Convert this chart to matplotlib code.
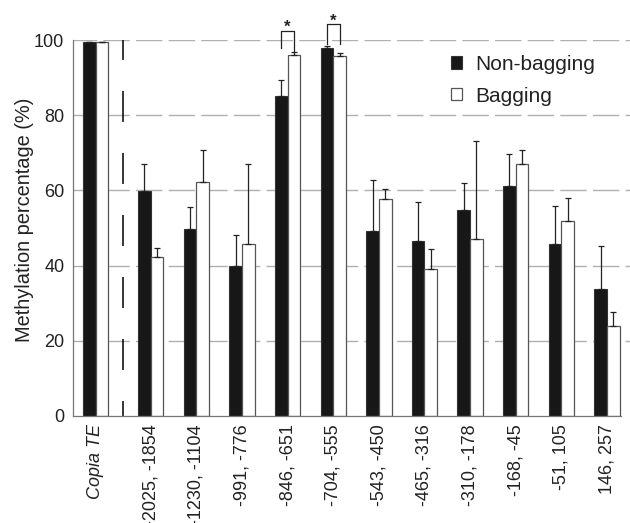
import matplotlib
matplotlib.use("Agg")
import matplotlib.pyplot as plt
from matplotlib.patches import Patch
import numpy as np

plt.rcParams['font.family'] = ['Liberation Sans', 'DejaVu Sans']

# Regions (bp relative to TSS); first entry is the Copia TE control
regions = ["Copia TE", "-2025, -1854", "-1230, -1104", "-991, -776", "-846, -651",
           "-704, -555", "-543, -450", "-465, -316", "-310, -178", "-168, -45",
           "-51, 105", "146, 257"]
non_bagging = [99.6, 59.9, 49.7, 39.9, 85.2, 98.0, 49.2, 46.5, 54.9, 61.2, 45.7, 33.7]
non_bagging_err = [0.0, 7.0, 6.0, 8.2, 4.1, 0.5, 13.6, 10.3, 7.1, 8.6, 10.1, 11.4]
bagging = [99.4, 42.2, 62.3, 45.7, 95.9, 95.7, 57.6, 39.1, 47.1, 67.0, 51.9, 24.0]
bagging_err = [0.0, 2.4, 8.4, 21.3, 1.0, 0.8, 2.9, 5.3, 26.0, 3.7, 6.2, 3.7]
yticks = [0, 20, 40, 60, 80, 100]

# x positions: control set apart, then evenly spaced regions
pos = np.concatenate([[-1.205], np.arange(len(regions) - 1)])
w = 0.278

fig = plt.figure(figsize=(6.30, 5.23), dpi=100)
ax = fig.add_axes([0.1154, 0.2046, 1.0 - 0.1154, 0.9235 - 0.2046])

ax.set_xlim(-1.709, 10.504)
ax.set_ylim(0, 100)

# dashed horizontal grid
for yv in yticks[1:]:
    ax.axhline(yv, color="#b0b0b0", lw=1.0, ls=(2, (19, 4.5)), zorder=0)

err_kw = dict(ecolor="#222222", elinewidth=0.9, capsize=2.5, capthick=0.9)
ax.bar(pos - w / 2, non_bagging, w, color="#171717", edgecolor="#333333", lw=0.8,
       yerr=[np.zeros(len(regions)), non_bagging_err], error_kw=err_kw, zorder=2)
ax.bar(pos + w / 2, bagging, w, color="white", edgecolor="#555555", lw=0.9,
       yerr=[np.zeros(len(regions)), bagging_err], error_kw=err_kw, zorder=2)

# separator between control and promoter regions
ax.plot([-0.60, -0.60], [0, 100], color="black", lw=1.1,
        ls=(10.5, (20.3, 20.3)), zorder=1)

# significance brackets
sig = [(4, 102.5, 97.8, 96.9), (5, 104.2, 99.0, 99.0)]
for i, top, yl, yr in sig:
    xl, xr = pos[i] - w / 2, pos[i] + w / 2
    ax.plot([xl, xl, xr, xr], [yl, top, top, yr], color="#222222", lw=0.9,
            clip_on=False, zorder=3)
    ax.text((xl + xr) / 2, top - 1.2, "*", ha="center", va="bottom",
            fontsize=12, fontweight="bold", color="#222222", clip_on=False)

for s in ["top", "right"]:
    ax.spines[s].set_visible(False)
for s in ["left", "bottom"]:
    ax.spines[s].set_color("#777777")
    ax.spines[s].set_linewidth(0.9)
ax.spines["bottom"].set_bounds(-1.709, 10.307)

ax.set_yticks(yticks)
ax.set_yticklabels([str(v) for v in yticks], fontsize=13, color="#222222")
ax.tick_params(axis="y", length=0, pad=6)
ax.set_xticks(pos)
ax.set_xticklabels(regions, rotation=90, fontsize=13, color="#222222",
                   va="top", ha="center")
ax.tick_params(axis="x", length=0, pad=6)
ax.get_xticklabels()[0].set_style("italic")

fig.text(25 / 630, 1 - 220 / 523, "Methylation percentage (%)", rotation=90,
         ha="center", va="center", fontsize=14.4, color="#222222")

handles = [Patch(facecolor="#171717", edgecolor="#333333", lw=0.8),
           Patch(facecolor="white", edgecolor="#555555", lw=0.9)]
ax.legend(handles, ["Non-bagging", "Bagging"], loc="upper left",
          bbox_to_anchor=(451 / 630, 1 - 55 / 523), bbox_transform=fig.transFigure,
          frameon=False, fontsize=15, handlelength=0.55, handleheight=0.55,
          handletextpad=0.6, labelspacing=0.6, borderaxespad=0, borderpad=0,
          labelcolor="#222222")

fig.savefig("out.png", dpi=100)
